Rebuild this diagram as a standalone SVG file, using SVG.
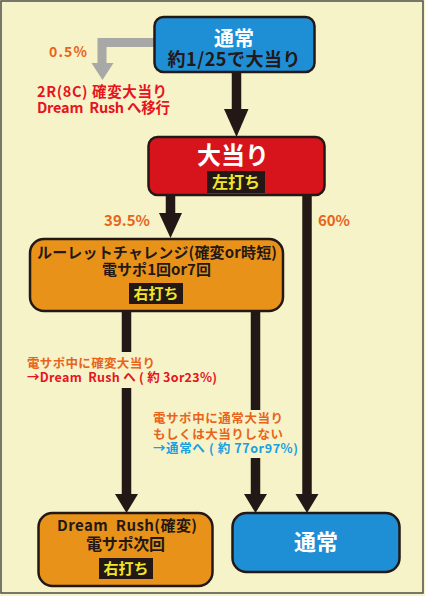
<svg xmlns="http://www.w3.org/2000/svg" width="425" height="596" viewBox="0 0 425 596">
<style>
text{font-family:"Noto Sans CJK JP","Noto Sans",sans-serif;font-weight:700;}
.box{stroke:#231815;stroke-width:2.5;}
.blue{fill:#1E8FD5;}
.red{fill:#D7141B;}
.orange{fill:#E8921A;}
.tag{fill:#231815;}
.tagt{fill:#F2E629;font-size:15px;text-anchor:middle;}
.line{stroke:#231815;stroke-width:9.5;fill:none;}
.head{fill:#231815;}
.lbl{font-size:12.5px;}
.c-or{fill:#E8641C;}
.c-rd{fill:#E6141E;}
.c-bl{fill:#1A9FE0;}
.dk{fill:#231815;text-anchor:middle;}
.wt{fill:#FFFFFF;text-anchor:middle;}
</style>
<rect x="0" y="0" width="425" height="596" fill="#F6F3C8"/>
<rect x="1" y="1" width="422" height="592" fill="none" stroke="#4D4D4D" stroke-width="1.5"/>

<g id="connectors">
  <polyline points="155,42.5 102,42.5 102,64" fill="none" stroke="#A8A8A6" stroke-width="9"/>
  <polygon points="91.5,63 113.5,63 102.5,80" fill="#A8A8A6"/>
  <line class="line" x1="236.5" y1="72" x2="236.5" y2="110"/>
  <polygon class="head" points="224,109 248.5,109 236.5,137"/>
  <line class="line" x1="170.5" y1="195" x2="170.5" y2="214"/>
  <polygon class="head" points="159,213 182,213 170.5,238"/>
  <line class="line" x1="307" y1="195" x2="307" y2="495"/>
  <polygon class="head" points="295.5,494 318.5,494 307,513"/>
  <line class="line" x1="126.5" y1="311" x2="126.5" y2="352"/>
  <line class="line" x1="126.5" y1="388" x2="126.5" y2="495"/>
  <polygon class="head" points="115,494 138,494 126.5,513"/>
  <line class="line" x1="255.5" y1="311" x2="255.5" y2="410"/>
  <line class="line" x1="255.5" y1="458" x2="255.5" y2="495"/>
  <polygon class="head" points="244,494 267,494 255.5,513"/>
  <text class="c-or" x="49" y="57" style="font-size:14px" textLength="38" lengthAdjust="spacing">0.5%</text>
  <text class="c-rd" x="37" y="97" style="font-size:14.5px" textLength="130" lengthAdjust="spacing">2R(8C) 確変大当り</text>
  <text class="c-rd" x="37" y="113" style="font-size:14.5px" textLength="133" lengthAdjust="spacing">Dream&#160; Rush へ移行</text>
  <text class="c-or" x="104" y="226" style="font-size:15px" textLength="46" lengthAdjust="spacing">39.5%</text>
  <text class="c-or" x="318" y="226" style="font-size:15px" textLength="32" lengthAdjust="spacing">60%</text>
  <text class="lbl c-or" x="27" y="368" textLength="128" lengthAdjust="spacing">電サポ中に確変大当り</text>
  <text class="lbl c-rd" x="27" y="382" textLength="190" lengthAdjust="spacing">→Dream&#160; Rush へ ( 約 3or23%)</text>
  <text class="lbl c-or" x="153" y="423" textLength="130" lengthAdjust="spacing">電サポ中に通常大当り</text>
  <text class="lbl c-or" x="153" y="439" textLength="130" lengthAdjust="spacing">もしくは大当りしない</text>
  <text class="lbl c-bl" x="153" y="453" textLength="145" lengthAdjust="spacing">→通常へ ( 約 77or97%)</text>
</g>

<g id="node-normal-top">
  <rect class="box blue" x="154.5" y="17" width="160" height="55" rx="9"/>
  <text class="wt" x="234" y="46" style="font-size:20px">通常</text>
  <text class="dk" x="234" y="66" style="font-size:18px" textLength="133" lengthAdjust="spacing">約1/25で大当り</text>
</g>

<g id="node-jackpot">
  <rect class="box red" x="148.5" y="137" width="176" height="58" rx="9"/>
  <text class="wt" x="233" y="164" style="font-size:24px">大当り</text>
  <rect class="tag" x="207" y="171" width="58" height="22"/>
  <text class="tagt" x="236" y="188" style="font-size:16px">左打ち</text>
</g>

<g id="node-roulette">
  <rect class="box orange" x="30" y="239" width="253" height="72" rx="14"/>
  <text class="dk" x="157" y="258" style="font-size:15px" textLength="240" lengthAdjust="spacing">ルーレットチャレンジ(確変or時短)</text>
  <text class="dk" x="156.5" y="275" style="font-size:15px" textLength="109" lengthAdjust="spacing">電サポ1回or7回</text>
  <rect class="tag" x="129" y="283" width="54" height="21"/>
  <text class="tagt" x="156" y="299">右打ち</text>
</g>

<g id="node-dreamrush">
  <rect class="box orange" x="38.5" y="513" width="174" height="73" rx="14"/>
  <text class="dk" x="127" y="531" style="font-size:15px" textLength="140" lengthAdjust="spacing">Dream&#160; Rush(確変)</text>
  <text class="dk" x="125.5" y="550" style="font-size:16px" textLength="79" lengthAdjust="spacing">電サポ次回</text>
  <rect class="tag" x="99" y="558" width="54" height="21"/>
  <text class="tagt" x="126" y="574">右打ち</text>
</g>

<g id="node-normal-bottom">
  <rect class="box blue" x="232.5" y="513" width="167" height="59" rx="14"/>
  <text class="wt" x="316" y="550" style="font-size:22px">通常</text>
</g>
</svg>
